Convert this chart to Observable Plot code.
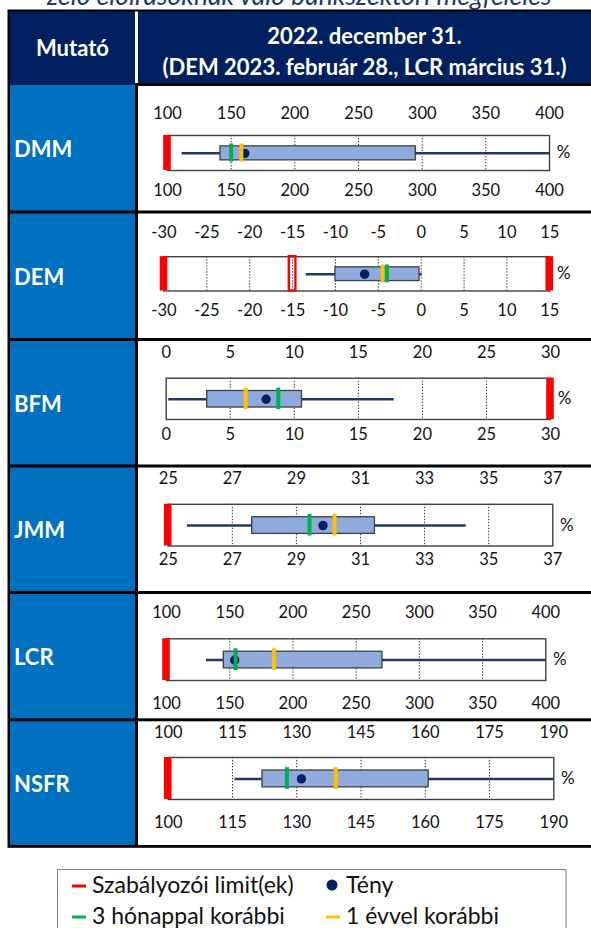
<!DOCTYPE html>
<html><head><meta charset="utf-8">
<script src="https://cdn.jsdelivr.net/npm/d3@7"></script>
<script src="https://cdn.jsdelivr.net/npm/@observablehq/plot@0.6"></script>
<style>
html,body{margin:0;padding:0;background:#fff}
#page{position:relative;width:591px;height:928px;overflow:hidden;font-family:Lato,"Open Sans",sans-serif}
#page > svg.layout{position:absolute;left:0;top:0}
.panel{position:absolute;left:138px}
.panel svg{display:block}
</style></head><body><div id="page"></div>
<script>
// ---------- data ----------
const indicators = ["DMM", "DEM", "BFM", "JMM", "LCR", "NSFR"];
const tickLabels = [
  [100, 150, 200, 250, 300, 350, 400],
  [-30, -25, -20, -15, -10, -5, 0, 5, 10, 15],
  [0, 5, 10, 15, 20, 25, 30],
  [25, 27, 29, 31, 33, 35, 37],
  [100, 150, 200, 250, 300, 350, 400],
  [100, 115, 130, 145, 160, 175, 190]
];
const whiskerLow  = [111.5, -13.4, 0.2, 25.6, 131.6, 115.6];
const quartile1   = [141.6, -10.0, 3.2, 27.62, 145.3, 122.0];
const quartile3   = [295.0, -0.2, 10.6, 31.45, 270.8, 160.8];
const whiskerHigh = [400, 0.1, 17.8, 34.3, 400, 190];
const actual      = [160.7, -6.6, 7.8, 29.83, 154.0, 131.1];
const threeMonthsEarlier = [150.0, -4.0, 8.75, 29.41, 154.6, 127.7];
const oneYearEarlier     = [158.0, -4.5, 6.2, 30.19, 185.1, 139.1];
const regulatoryLimits = [[100], [-30, 15], [30], [25], [100], [100]];
const softLimits = [[], [-15], [], [], [], []];

const titleText = "zelő előírásoknak való bankszektori megfelelés";
const headerLeft = "Mutató";
const headerRight = ["2022. december 31.", "(DEM 2023. február 28., LCR március 31.)"];
const legendItems = [
  {label: "Szabályozói limit(ek)", kind: "dash", color: "#FF0000"},
  {label: "Tény", kind: "dot", color: "#002060"},
  {label: "3 hónappal korábbi", kind: "dash", color: "#00B050"},
  {label: "1 évvel korábbi", kind: "dash", color: "#FFC000"}
];

// ---------- layout (page pixels) ----------
const sep = [83, 210.5, 338, 464.5, 591, 718.3, 845];
const frameY = [[135, 170], [255.7, 290], [377.7, 419], [503.3, 545], [638.3, 680], [757.3, 799.3]];
const frameX = [[167, 549], [163.5, 549.3], [165.7, 550], [167.7, 552.3], [166, 545.3], [167.7, 553.3]];
const topLabelY = [113, 230.7, 351.7, 477, 611.7, 731.7];
const botLabelY = [190, 309, 433.7, 557.7, 702.3, 822.3];
const navy = "#002060", blue = "#0070C0";
const tickFont = 16.5, halfCap = tickFont * 0.36;

const page = d3.select("#page");
const svg = page.append("svg").attr("class", "layout").attr("width", 591).attr("height", 928);

svg.append("text").attr("x", 47).attr("y", 5).attr("font-style", "italic").attr("font-size", 26.5)
  .attr("fill", "#1F3864").text(titleText);

svg.append("rect").attr("x", 7.5).attr("y", 9.5).attr("width", 600).attr("height", 838.3).attr("fill", "#000");
svg.append("rect").attr("x", 10).attr("y", 11.5).attr("width", 125).attr("height", 73.5).attr("fill", navy);
svg.append("rect").attr("x", 135).attr("y", 11.5).attr("width", 3).attr("height", 71.5).attr("fill", "#fff");
svg.append("rect").attr("x", 138).attr("y", 11.5).attr("width", 460).attr("height", 71.5).attr("fill", navy);
svg.append("text").attr("x", 72.5).attr("y", 56).attr("text-anchor", "middle").attr("font-weight", 700)
  .attr("font-size", 22).attr("fill", "#fff").text(headerLeft);
headerRight.forEach((t, i) => svg.append("text").attr("x", 364.5).attr("y", 44 + i * 31)
  .attr("text-anchor", "middle").attr("font-weight", 700).attr("font-size", 22).attr("fill", "#fff").text(t));

indicators.forEach((name, i) => {
  const top = sep[i] + 3, bottom = sep[i + 1];
  svg.append("rect").attr("x", 10).attr("y", i === 0 ? 85 : top).attr("width", 125)
    .attr("height", bottom - (i === 0 ? 85 : top)).attr("fill", blue);
  svg.append("rect").attr("x", 138).attr("y", top).attr("width", 460).attr("height", bottom - top).attr("fill", "#fff");
  svg.append("text").attr("x", 14).attr("y", (top + bottom) / 2 + 9).attr("font-weight", 700)
    .attr("font-size", 22).attr("fill", "#fff").text(name);
});

// legend
svg.append("rect").attr("x", 57.5).attr("y", 869.5).attr("width", 508.5).attr("height", 90)
  .attr("fill", "#fff").attr("stroke", "#7F7F7F").attr("stroke-width", 1);
legendItems.forEach((it, k) => {
  const col = k % 2, row = Math.floor(k / 2);
  const x0 = col === 0 ? 72 : 326, base = row === 0 ? 893 : 924;
  if (it.kind === "dash") {
    svg.append("line").attr("x1", x0).attr("x2", x0 + 14).attr("y1", base - 7).attr("y2", base - 7)
      .attr("stroke", it.color).attr("stroke-width", 3);
  } else {
    svg.append("circle").attr("cx", x0 + 6).attr("cy", base - 8).attr("r", 5.5).attr("fill", it.color);
  }
  svg.append("text").attr("x", x0 + 20).attr("y", base).attr("font-size", 23)
    .attr("fill", "#111").text(it.label);
});

// ---------- charts ----------
indicators.forEach((name, i) => {
  const top = sep[i] + 3, height = sep[i + 1] - sep[i] - 3;
  const ticks = tickLabels[i];
  const inner = ticks.slice(1, -1);
  const row = [{lo: whiskerLow[i], hi: whiskerHigh[i], q1: quartile1[i], q3: quartile3[i],
    act: actual[i], m3: threeMonthsEarlier[i], y1: oneYearEarlier[i]}];
  const mt = frameY[i][0] - top, mb = top + height - frameY[i][1];
  const ml = frameX[i][0] - 138, mr = 591 - frameX[i][1];
  const chart = Plot.plot({
    width: 453, height,
    marginTop: mt, marginBottom: mb, marginLeft: ml, marginRight: mr,
    x: {domain: [ticks[0], ticks[ticks.length - 1]]},
    y: {domain: [0, 1], axis: null},
    style: {fontFamily: "Lato, 'Open Sans', sans-serif", fontSize: tickFont + "px", color: "#111", background: "transparent", overflow: "visible"},
    marks: [
      Plot.gridX(inner, {stroke: "#333", strokeOpacity: 1, strokeWidth: 1, strokeDasharray: "1.4,1.6"}),
      Plot.frame({stroke: "#404040", strokeWidth: 1.4}),
      Plot.axisX({anchor: "top", ticks, tickSize: 0, tickPadding: (frameY[i][0] - topLabelY[i]) - halfCap,
        tickFormat: d => String(d), label: null}),
      Plot.axisX({anchor: "bottom", ticks, tickSize: 0, tickPadding: (botLabelY[i] - frameY[i][1]) - (0.71 * tickFont - halfCap),
        tickFormat: d => String(d), label: null}),
      Plot.ruleY(row, {x1: "lo", x2: "hi", y: 0.49, stroke: "#1F3864", strokeWidth: 2.5}),
      Plot.rect(row, {x1: "q1", x2: "q3", y1: 0.29, y2: 0.69, fill: "#8FAADC", stroke: "#404040", strokeWidth: 1.3}),
      Plot.rect(regulatoryLimits[i], {x1: d => d, x2: d => d, y1: 0, y2: 1, insetLeft: -3.8, insetRight: -3.8, fill: "#FF0000"}),
      Plot.rect(softLimits[i], {x1: d => d, x2: d => d, y1: 0, y2: 1, insetLeft: -3.3, insetRight: -3.3,
        fill: "none", stroke: "#FF0000", strokeWidth: 2.4}),
      Plot.dot(row, {x: "act", y: 0.49, r: 4.7, fill: navy}),
      Plot.ruleX(row, {x: "y1", y1: 0.24, y2: 0.76, stroke: "#FFC000", strokeWidth: 4}),
      Plot.ruleX(row, {x: "m3", y1: 0.24, y2: 0.76, stroke: "#00B050", strokeWidth: 4}),
      Plot.text(["%"], {frameAnchor: "right", dx: 14, fontSize: 17, textAnchor: "middle", fill: "#111"})
    ]
  });
  page.append("div").attr("class", "panel").style("top", top + "px").node().appendChild(chart);
});
</script></body></html>
